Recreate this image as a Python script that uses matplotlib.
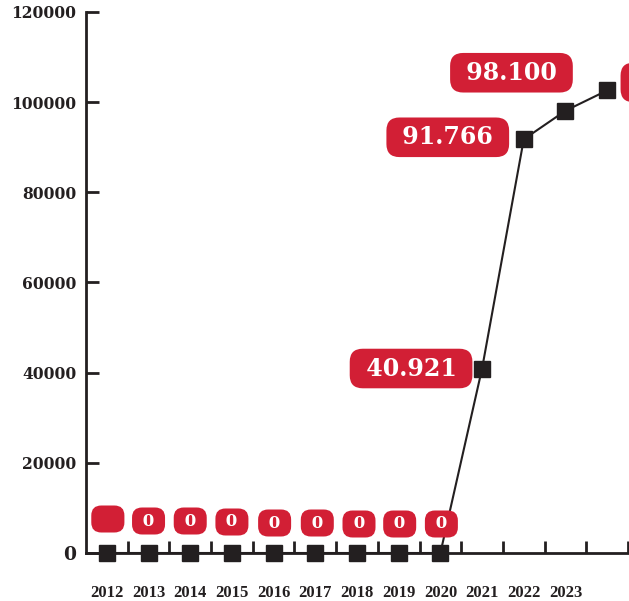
import matplotlib
matplotlib.use("Agg")
import matplotlib.pyplot as plt
from matplotlib.ticker import FixedLocator

years = ["2012", "2013", "2014", "2015", "2016", "2017", "2018", "2019",
         "2020", "2021", "2022", "2023"]
values = [0, 0, 0, 0, 0, 0, 0, 0, 0, 40921, 91766, 98100, 102600]
labels = ["", "0", "0", "0", "0", "0", "0", "0", "0",
          "40.921", "91.766", "98.100", "102.600"]
yticks = [0, 20000, 40000, 60000, 80000, 100000, 120000]

RED = "#D21F35"
INK = "#231F20"
FONT = "DejaVu Serif"

fig = plt.figure(figsize=(6.29, 6.01), dpi=100)
W, H = 629, 601
ax = fig.add_axes([86 / W, (H - 553) / H, (628 - 86) / W, (553 - 12) / H])

x = list(range(len(values)))
ax.plot(x, values, color=INK, lw=1.5, marker="s", markersize=12,
        markerfacecolor=INK, markeredgecolor=INK, clip_on=False, zorder=4)

ax.set_xlim(-0.5, len(values) - 0.5)
ax.set_ylim(0, 120000)

for s in ["top", "right"]:
    ax.spines[s].set_visible(False)
for s in ["left", "bottom"]:
    ax.spines[s].set_linewidth(2)
    ax.spines[s].set_color(INK)

ax.set_yticks(yticks)
ax.set_yticklabels([str(v) for v in yticks], fontfamily=FONT,
                   fontweight="bold", fontsize=11.2, color=INK)
ax.tick_params(axis="y", direction="in", length=9, width=2, color=INK, pad=7)
ax.get_yticklabels()[0].set_fontsize(13.5)

ax.set_xticks(range(len(years)))
ax.set_xticklabels(years, fontfamily="Liberation Serif", fontweight="bold",
                   fontsize=12, color=INK)
ax.tick_params(axis="x", which="major", length=0, pad=23)
ax.xaxis.set_minor_locator(FixedLocator([i + 0.5 for i in range(len(values))]))
ax.tick_params(axis="x", which="minor", direction="in", length=9, width=2,
               color=INK)

# label offsets in pixels (dx, dy)
offsets = [(1, 34), (0, 32), (0, 32), (0, 31), (1, 30), (2, 30), (2, 29),
           (1, 29), (1, 29), (-71, 0), (-76, 2), (-54, 38), (83, 8)]

for i, (v, lab) in enumerate(zip(values, labels)):
    dx, dy = offsets[i]
    if i < 9:
        txt = " " + (lab if lab else "\u2007") + " "
        ax.annotate(txt, (i, v), xytext=(dx, dy), textcoords="offset pixels",
                    ha="center", va="center", fontfamily=FONT,
                    fontweight="bold", fontsize=12, color="white",
                    annotation_clip=False,
                    bbox=dict(boxstyle="round,pad=0.3,rounding_size=0.6",
                              fc=RED, ec="none"), zorder=5)
    else:
        ax.annotate(" " + lab + " ", (i, v), xytext=(dx, dy),
                    textcoords="offset pixels",
                    ha="center", va="center", fontfamily=FONT,
                    fontweight="bold", fontsize=17, color="white",
                    annotation_clip=False,
                    bbox=dict(boxstyle="round,pad=0.33,rounding_size=0.55",
                              fc=RED, ec="none"), zorder=5)

fig.savefig("out.png", dpi=100)
